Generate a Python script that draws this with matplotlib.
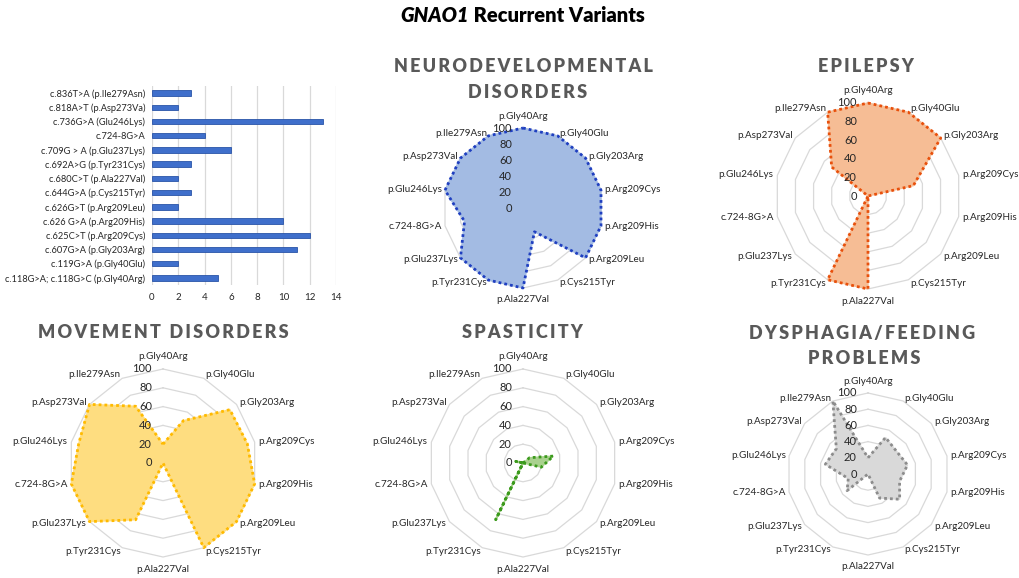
import numpy as np
import matplotlib
matplotlib.use('Agg')
import matplotlib.pyplot as plt

plt.rcParams['font.family'] = ['Lato', 'DejaVu Sans']

W, H = 1020, 578

# bar chart: number of patients per recurrent variant (bottom to top)
variant_labels = ['c.118G>A; c.118G>C (p.Gly40Arg)', 'c.119G>A (p.Gly40Glu)',
                  'c.607G>A (p.Gly203Arg)', 'c.625C>T (p.Arg209Cys)',
                  'c.626 G>A (p.Arg209His)', 'c.626G>T (p.Arg209Leu)',
                  'c.644G>A (p.Cys215Tyr)', 'c.680C>T (p.Ala227Val)',
                  'c.692A>G (p.Tyr231Cys)', 'c.709G > A (p.Glu237Lys)',
                  'c.724-8G>A', 'c.736G>A (Glu246Lys)',
                  'c.818A>T (p.Asp273Va)', 'c.836T>A (p.Ile279Asn)']
variant_counts = [5, 2, 11, 12, 10, 2, 3, 2, 3, 6, 4, 13, 2, 3]
bar_ticks = [0, 2, 4, 6, 8, 10, 12, 14]

# radar charts: % of patients with each feature (clockwise from top)
axis_labels = ['p.Gly40Arg', 'p.Gly40Glu', 'p.Gly203Arg', 'p.Arg209Cys',
               'p.Arg209His', 'p.Arg209Leu', 'p.Cys215Tyr', 'p.Ala227Val',
               'p.Tyr231Cys', 'p.Glu237Lys', 'c.724-8G>A', 'p.Glu246Lys',
               'p.Asp273Val', 'p.Ile279Asn']
neuro = [100, 100, 100, 100, 100, 100, 33, 100, 100, 100, 75, 100, 100, 100]
epilepsy = [100, 100, 100, 50, 0, 0, 0, 100, 100, 0, 0, 0, 50, 100]
movement = [20, 50, 91, 92, 100, 100, 100, 0, 67, 100, 100, 92, 100, 67]
spasticity = [0, 0, 9, 33, 20, 0, 0, 0, 67, 0, 0, 8, 0, 0]
dysphagia = [20, 50, 45, 50, 40, 50, 33, 0, 0, 33, 25, 54, 50, 100]
rings = [20, 40, 60, 80, 100]
ring_labels = [0, 20, 40, 60, 80, 100]

fig = plt.figure(figsize=(W/100, H/100), dpi=100)

# ---- bar chart
axb = fig.add_axes([152/W, (H-285)/H, 184/W, 199/H])
ypos = np.arange(len(variant_counts))
axb.barh(ypos, variant_counts, height=0.38, color='#3F6FCB', edgecolor='#2A54A8', linewidth=0.6, zorder=3)
axb.set_xlim(0, 14)
axb.set_ylim(-0.5, 13.5)
axb.set_xticks(bar_ticks)
axb.set_yticks(ypos)
axb.set_yticklabels(variant_labels)
axb.tick_params(axis='both', length=0, labelsize=7, colors='#262626')
axb.tick_params(axis='y', labelsize=6.7, pad=5)
axb.tick_params(axis='x', pad=6)
axb.grid(axis='x', color='#D9D9D9', lw=0.9, zorder=0)
for s in axb.spines.values():
    s.set_visible(False)


def spaced(s):
    return '\u2009'.join(s)


def radar(cx, cy, rad, values, fill, edge):
    ax = fig.add_axes([(cx-rad)/W, (H-cy-rad)/H, 2*rad/W, 2*rad/H], projection='polar')
    ax.set_theta_offset(np.pi/2)
    ax.set_theta_direction(-1)
    ax.set_ylim(0, 100)
    ax.axis('off')
    n = len(axis_labels)
    theta = np.linspace(0, 2*np.pi, n, endpoint=False)
    closed = np.append(theta, theta[0])
    for r in rings:
        ax.plot(closed, [r]*(n+1), color='#D9D9D9', lw=0.9, clip_on=False, zorder=1)
    vals = np.append(values, values[0])
    ax.fill(closed, vals, color=fill, zorder=2, clip_on=False)
    ax.plot(closed, vals, color=edge, lw=2, ls=(0, (1, 1.1)), clip_on=False, zorder=3)
    for t, lab in zip(theta, axis_labels):
        s, c = np.sin(t), np.cos(t)
        ha = 'center' if abs(s) < 0.01 else ('left' if s > 0 else 'right')
        va = 'bottom' if c > 0.99 else ('top' if c < -0.99 else 'center')
        rr = 109 if abs(s) < 0.01 else 104
        ax.text(t, rr, lab, ha=ha, va=va, fontsize=7.1, color='#262626', clip_on=False)
    for r in ring_labels:
        ax.annotate(str(r), xy=(0, r), xytext=(-8, 0), textcoords='offset points',
                    ha='right', va='center', fontsize=8, color='#262626', zorder=5)
    return ax


title_kw = dict(fontsize=13, fontweight='heavy', color='#595959', ha='center', va='center')

radar(523, 208, 80, neuro, '#A3BBE3', '#1F3FC0')
fig.text(523/W, 1-67/H, spaced('NEURODEVELOPMENTAL'), **title_kw)
fig.text(528/W, 1-93/H, spaced('DISORDERS'), **title_kw)

radar(868, 196, 93, epilepsy, '#F6BD95', '#E8500C')
fig.text(866/W, 1-67/H, spaced('EPILEPSY'), **title_kw)

radar(163, 463, 94, movement, '#FEDD80', '#FFBA00')
fig.text(163/W, 1-333/H, spaced('MOVEMENT DISORDERS'), **title_kw)

radar(523, 463, 94, spasticity, '#A9D18E', '#3B9A1C')
fig.text(522/W, 1-333/H, spaced('SPASTICITY'), **title_kw)

radar(868, 474, 81, dysphagia, '#D9D9D9', '#8C8C8C')
fig.text(862/W, 1-333/H, spaced('DYSPHAGIA/FEEDING'), **title_kw)
fig.text(864/W, 1-358/H, spaced('PROBLEMS'), **title_kw)

# ---- main title: italic gene name + plain rest, centred as one string
t1 = fig.text(0, 1-16/H, 'GNAO1', fontsize=14.5, fontweight='heavy', style='italic', va='center', ha='left')
t2 = fig.text(0, 1-16/H, ' Recurrent Variants', fontsize=14.5, fontweight='heavy', va='center', ha='left')
fig.canvas.draw()
r = fig.canvas.get_renderer()
w1 = t1.get_window_extent(r).width
w2 = t2.get_window_extent(r).width
x0 = 523 - (w1 + w2) / 2
t1.set_x(x0 / W)
t2.set_x((x0 + w1) / W)

fig.savefig('out.png', dpi=100)
